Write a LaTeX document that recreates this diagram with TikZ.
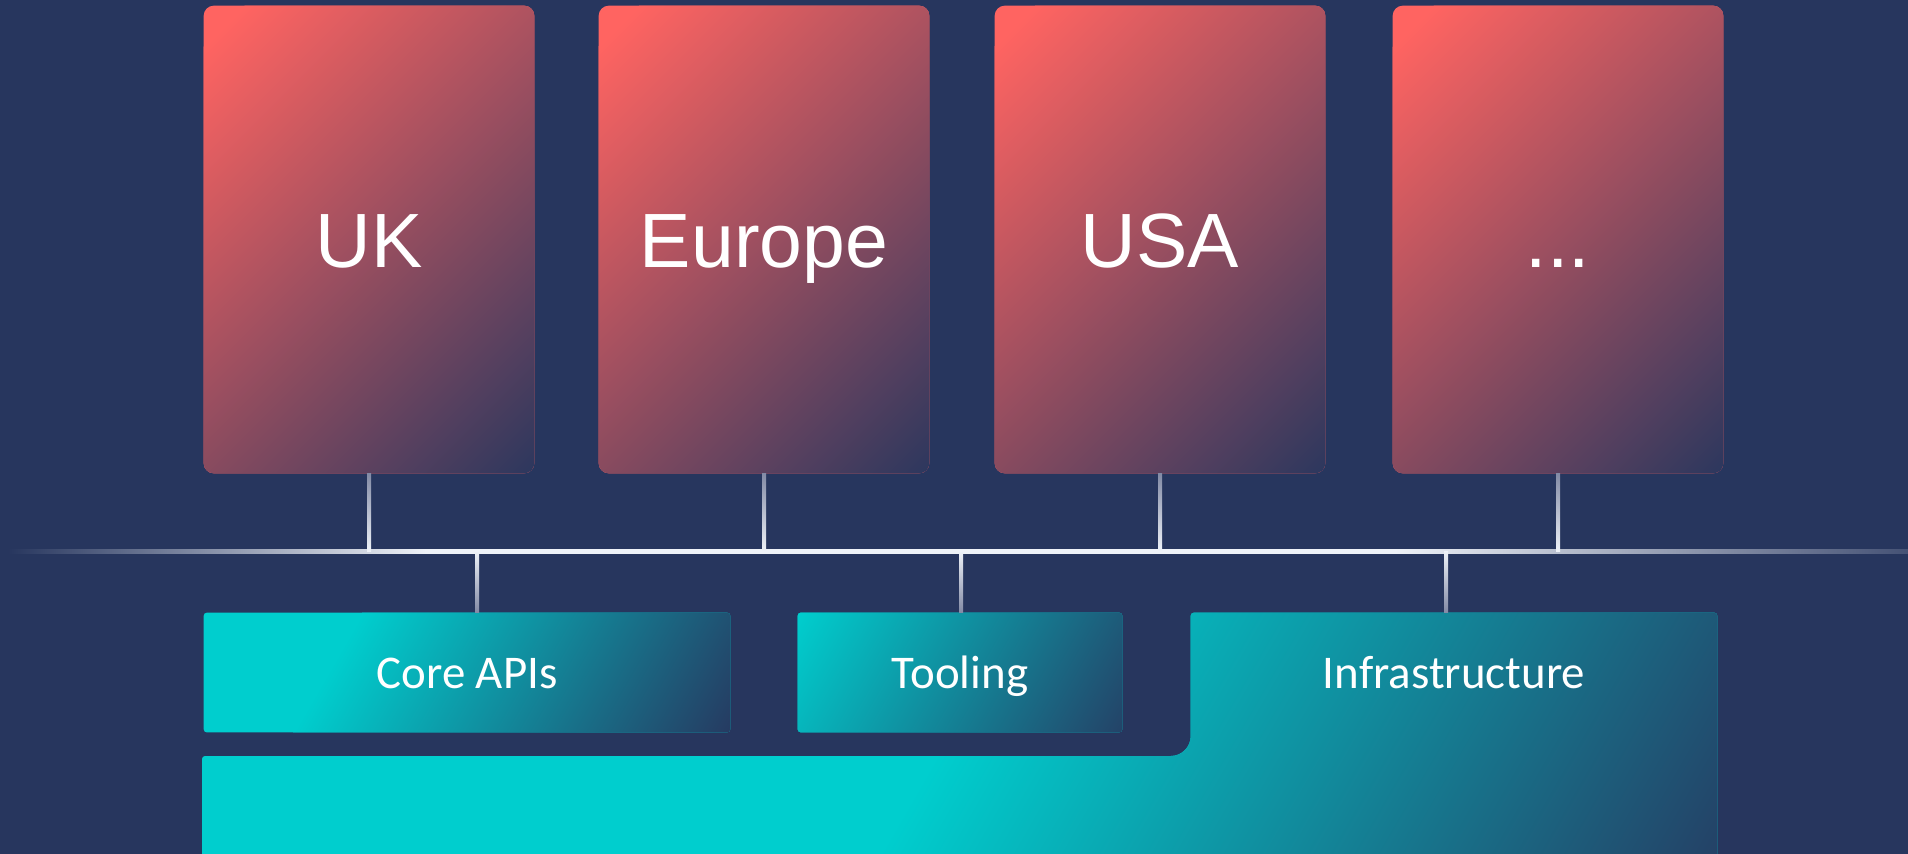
\documentclass[tikz,border=0pt]{standalone}
\usepackage{fontspec}
\usetikzlibrary{calc}
\newfontfamily\regionfont{Liberation Sans}
\newfontfamily\teamfont{Carlito}
\definecolor{navy}{RGB}{39,54,94}
\definecolor{coral}{RGB}{255,100,97}
\definecolor{aqua}{RGB}{0,206,206}
\definecolor{wire}{RGB}{238,242,248}
\definecolor{wirefade}{RGB}{130,138,165}
\definecolor{wireend}{RGB}{69,82,117}
\pgfdeclarelayer{background}
\pgfsetlayers{background,main}
% bus line, faded at both ends
\pgfdeclarehorizontalshading{busfade}{100bp}{color(0bp)=(navy); color(25bp)=(navy);
  color(36bp)=(wire); color(61.5bp)=(wire); color(75bp)=(wireend); color(100bp)=(wireend)}
% diagonal fill: clip path, angle, from colour, to colour, start and end of the ramp
\newcommand{\diagfill}[6]{%
  \begin{scope}
    \clip #1;
    \fill[#3] (-50,-50) rectangle (1960,950);
    \begin{scope}[transform canvas={rotate=-#2}]
      \shade[left color=#3,right color=#4] (#5,-1300) rectangle (#6,800);
      \fill[#4] (#6,-1300) rectangle (2600,800);
    \end{scope}
  \end{scope}}
\begin{document}
\begin{tikzpicture}[x=0.02cm,y=-0.02cm,
    region/.style={minimum width=6.6cm,minimum height=9.34cm,inner sep=0pt,text=white,
      text height=1.1cm,text depth=0pt,font=\regionfont\fontsize{43.8}{50}\selectfont},
    team/.style={minimum height=2.38cm,inner sep=0pt,text=white,
      text height=0.62cm,text depth=0pt,font=\teamfont\fontsize{26.7}{30}\selectfont}]
  \useasboundingbox (0,0) rectangle (1908,853);
  % regions
  \node[region] (uk) at (369,239.5) {UK};
  \node[region] (eu) at (764,239.5) {Europe};
  \node[region] (usa) at (1160,239.5) {USA};
  \node[region] (more) at (1558,239.5) {...};
  % shared teams
  \node[team,minimum width=10.52cm] (core) at (467,672.5) {Core APIs};
  \node[team,minimum width=6.48cm] (tool) at (960,672.5) {Tooling};
  \node[team,minimum width=10.52cm] (infra) at (1454,672.5) {Infrastructure};
  \coordinate (bus) at (0,551);
  \coordinate (base) at (202,756);
  \coordinate (floor) at (0,900);
  \begin{pgfonlayer}{background}
    \fill[navy] (-50,-50) rectangle (1960,950);
    \diagfill{[rounded corners=0.2cm] (uk.north west) rectangle (uk.south east)}{45}{coral}{navy}{177}{725}
    \diagfill{[rounded corners=0.2cm] (eu.north west) rectangle (eu.south east)}{45}{coral}{navy}{456}{1004}
    \diagfill{[rounded corners=0.2cm] (usa.north west) rectangle (usa.south east)}{45}{coral}{navy}{736}{1284}
    \diagfill{[rounded corners=0.2cm] (more.north west) rectangle (more.south east)}{45}{coral}{navy}{1018}{1565}
    \diagfill{[rounded corners=0.06cm] (core.north west) rectangle (core.south east)}{30}{aqua}{navy}{620}{1010}
    \diagfill{[rounded corners=0.06cm] (tool.north west) rectangle (tool.south east)}{30}{aqua}{navy}{997}{1369}
    % platform under infrastructure
    \diagfill{[rounded corners=0.06cm] (base |- floor) -- (base) [rounded corners=0.4cm] -- (base -| infra.west)
      [rounded corners=0.06cm] -- (infra.north west) -- (infra.north east)
      -- (infra.east |- floor) -- cycle}{30}{aqua}{navy}{1188}{1974}
    % bus
    \shade[shading=busfade] (8,549) rectangle (1908,553);
    \foreach \r in {uk,eu,usa,more}
      \shade[top color=wirefade,bottom color=wire] ($(\r.south)+(-2,0)$) rectangle ($(\r.south |- bus)+(2,0)$);
    \foreach \t/\dx in {core/10,tool/1,infra/-8}
      \shade[top color=wire,bottom color=wirefade] ($(\t.north |- bus)+(\dx-2,0)$) rectangle ($(\t.north)+(\dx+2,0)$);
  \end{pgfonlayer}
\end{tikzpicture}
\end{document}
